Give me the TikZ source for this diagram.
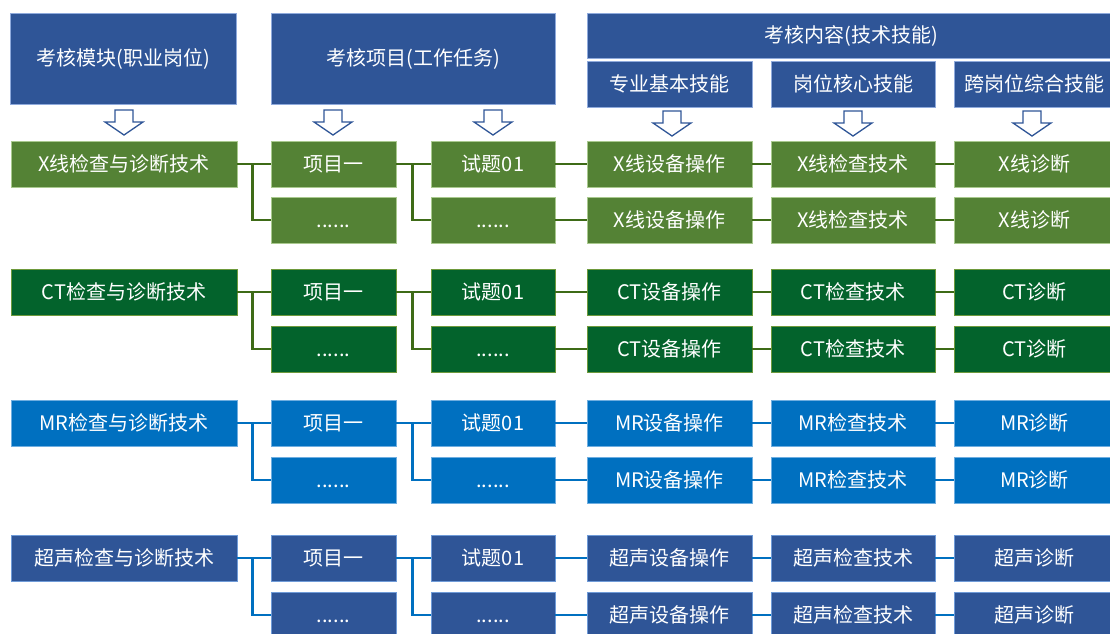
\documentclass[tikz,border=0pt]{standalone}
\usepackage{fontspec}
\setmainfont{Noto Sans CJK SC}
\definecolor{hdr}{HTML}{2F5597}
\definecolor{hdrb}{HTML}{8FAADC}
\definecolor{xg}{HTML}{548235}
\definecolor{xgb}{HTML}{A9C98E}
\definecolor{ctg}{HTML}{03632C}
\definecolor{ctgb}{HTML}{6E9A3C}
\definecolor{mrb}{HTML}{0070C0}
\definecolor{mrbb}{HTML}{6FAEE0}
\definecolor{usb}{HTML}{2F5597}
\definecolor{usbb}{HTML}{6F9BD8}
\definecolor{gline}{HTML}{3E6B17}
\definecolor{bline}{HTML}{0070C0}
\definecolor{arr}{HTML}{2F5597}
\begin{document}
\begin{tikzpicture}[x=1pt,y=-1pt,
  box/.style={rectangle, line width=0.8pt, text=white, inner sep=0pt,
    font=\fontsize{20}{24}\selectfont, text height=17pt, text depth=3pt,
    minimum height=46pt},
  hdrbox/.style={box, fill=hdr, draw=hdrb},
  wa/.style={minimum width=226pt},
  wb/.style={minimum width=125pt},
  wc/.style={minimum width=124pt},
  wd/.style={minimum width=165pt},
  we/.style={minimum width=164pt},
  wf/.style={minimum width=161pt},
  conn/.style={line width=2.6pt},
  dnarrow/.pic={\draw[arr, line width=1.3pt, fill=white, line join=miter]
     (-9,0) -- (9,0) -- (9,12) -- (19,12) -- (0,25) -- (-19,12) -- (-9,12) -- cycle;}
]
\useasboundingbox (0,0) rectangle (1110,633);
\fill[white] (0,0) rectangle (1110,633);

% headers
\node[hdrbox, wa, minimum height=91pt] (h1) at (123,58.5) {考核模块(职业岗位)};
\node[hdrbox, minimum width=284pt, minimum height=91pt] (h2) at (413,58.5) {考核项目(工作任务)};
\node[hdrbox, minimum width=528pt, minimum height=45pt] (h3) at (851,35.5) {考核内容(技术技能)};
\node[hdrbox, wd] (s1) at (669.5,84) {专业基本技能};
\node[hdrbox, we] (s2) at (853,84) {岗位核心技能};
\node[hdrbox, wf] (s3) at (1034.5,84) {跨岗位综合技能};

% hollow arrows
\pic at (124,110) {dnarrow};
\pic at (333,110) {dnarrow};
\pic at (493,110) {dnarrow};
\pic at (672,111) {dnarrow};
\pic at (853,111) {dnarrow};
\pic at (1032,111) {dnarrow};

\foreach \r/\ya/\yb/\fc/\bc/\lc/\p in {
   1/164/220/xg/xgb/gline/X线,
   2/292/349/ctg/ctgb/gline/CT,
   3/423/480/mrb/mrbb/bline/MR,
   4/558/615/usb/usbb/bline/超声}{
  \tikzset{rb/.style={box, fill=\fc, draw=\bc}}
  \node[rb, wa] (m\r) at (124,\ya) {\p 检查与诊断技术};
  \node[rb, wb] (pa\r) at (333.5,\ya) {项目一};
  \node[rb, wb] (pb\r) at (333.5,\yb) {......};
  \node[rb, wc] (ta\r) at (493,\ya) {试题01};
  \node[rb, wc] (tb\r) at (493,\yb) {......};
  \node[rb, wd] (da\r) at (669.5,\ya) {\p 设备操作};
  \node[rb, wd] (db\r) at (669.5,\yb) {\p 设备操作};
  \node[rb, we] (ea\r) at (853,\ya) {\p 检查技术};
  \node[rb, we] (eb\r) at (853,\yb) {\p 检查技术};
  \node[rb, wf] (fa\r) at (1034.5,\ya) {\p 诊断};
  \node[rb, wf] (fb\r) at (1034.5,\yb) {\p 诊断};
  \begin{scope}[conn, draw=\lc]
    \draw (m\r.east) -- (pa\r.west);
    \draw ([xshift=15pt]m\r.east) |- (pb\r.west);
    \draw (pa\r.east) -- (ta\r.west);
    \draw ([xshift=16pt]pa\r.east) |- (tb\r.west);
    \draw (ta\r.east) -- (da\r.west);
    \draw (tb\r.east) -- (db\r.west);
    \draw (da\r.east) -- (ea\r.west);
    \draw (db\r.east) -- (eb\r.west);
    \draw (ea\r.east) -- (fa\r.west);
    \draw (eb\r.east) -- (fb\r.west);
  \end{scope}
}
\end{tikzpicture}
\end{document}
